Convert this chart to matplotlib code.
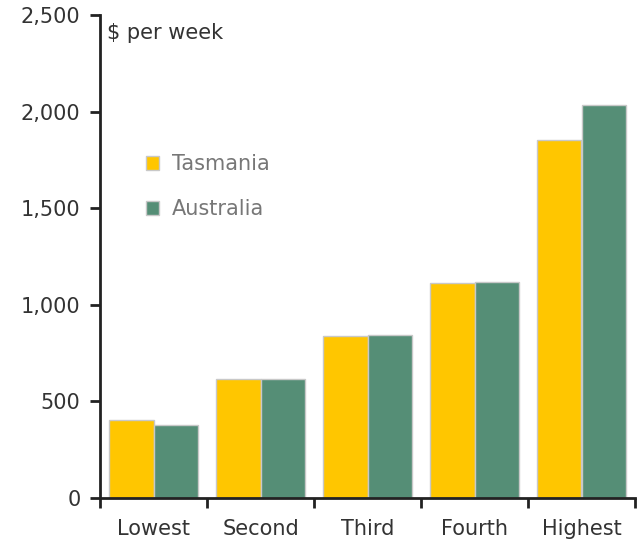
import numpy as np
import matplotlib.pyplot as plt

categories = ['Lowest', 'Second', 'Third', 'Fourth', 'Highest']
tasmania = [405, 616, 838, 1115, 1852]
australia = [378, 616, 844, 1120, 2036]

tas_color = '#FFC600'
aus_color = '#558E76'

fig = plt.figure(figsize=(6.41, 5.45), dpi=100)
ax = fig.add_axes([100 / 641, 47 / 545, 535 / 641, 483 / 545])

x = np.arange(len(categories))
w = 0.42
ax.bar(x - w / 2, tasmania, w, color=tas_color, edgecolor='#c8c8c8', linewidth=1, label='Tasmania')
ax.bar(x + w / 2, australia, w, color=aus_color, edgecolor='#c8c8c8', linewidth=1, label='Australia')

ax.set_xlim(-0.5, len(categories) - 0.5)
ax.set_ylim(0, 2500)
ax.set_yticks(range(0, 2501, 500))
ax.set_yticklabels(['0', '500', '1,000', '1,500', '2,000', '2,500'])
ax.set_xticks(np.arange(-0.5, len(categories), 1))
ax.set_xticklabels([])
ax.set_xticks(x, minor=True)
ax.set_xticklabels(categories, minor=True)
ax.tick_params(axis='x', which='minor', length=0, pad=15)
ax.tick_params(axis='x', which='major', length=7, width=2, color='#222222')
ax.tick_params(axis='y', length=7, width=2, color='#222222', pad=7)
ax.tick_params(labelsize=15, labelcolor='#333333', which='both')

for s in ['top', 'right']:
    ax.spines[s].set_visible(False)
for s in ['left', 'bottom']:
    ax.spines[s].set_linewidth(2)
    ax.spines[s].set_color('#222222')

ax.text(0.013, 0.962, '\\$ per week', transform=ax.transAxes, fontsize=15,
        color='#333333', va='center', ha='left')

ax.legend(loc='center left', bbox_to_anchor=(0.05, 0.644), frameon=False,
          fontsize=15, labelcolor='#777777', handlelength=0.65, handleheight=0.65,
          handletextpad=0.6, labelspacing=1.2)

fig.savefig('out.png', dpi=100)
